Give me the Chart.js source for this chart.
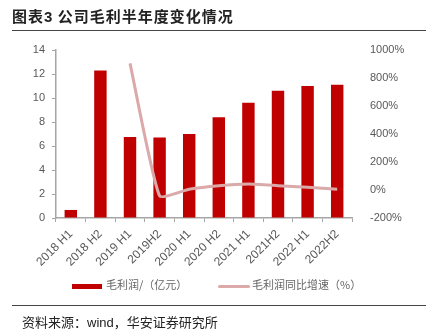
<!DOCTYPE html>
<html>
<head>
<meta charset="utf-8">
<script src="https://cdn.jsdelivr.net/npm/chart.js@4.4.0/dist/chart.umd.min.js"></script>
<style>
  body { margin: 0; background: #fff; width: 432px; height: 336px; overflow: hidden; position: relative; font-family: "Noto Sans CJK SC", sans-serif; }
  #wrap { position: absolute; left: 0; top: 0; width: 432px; height: 336px; }
  .title { position: absolute; left: 12px; top: 5px; font-size: 15px; font-weight: bold; color: #222; letter-spacing: 1px; }
  .rule { position: absolute; left: 12px; width: 414px; height: 1px; background: #444; }
  .legend { position: absolute; top: 276px; font-size: 11px; color: #666; white-space: nowrap; }
  .src { position: absolute; left: 22px; top: 312px; font-size: 13px; color: #222; }
</style>
</head>
<body>
<div id="wrap"><canvas id="grossProfitChart" width="432" height="336"></canvas></div>
<div class="title">图表<span style="font-family:'Liberation Sans',sans-serif">3</span> 公司毛利半年度变化情况</div>
<div class="rule" style="top:30px"></div>
<div class="legend" style="left:72px"><span style="display:inline-block;width:30px;height:5px;background:#c00000;vertical-align:middle;margin-right:4px"></span>毛利润/（亿元）</div>
<div class="legend" style="left:218px"><span style="display:inline-block;width:32px;height:3px;background:#dba9a9;border-radius:2px;vertical-align:middle;margin-right:2px"></span>毛利润同比增速（%）</div>
<div class="rule" style="top:305px"></div>
<div class="src">资料来源：<span style="font-family:'Liberation Sans',sans-serif">wind</span>，华安证券研究所</div>
<script>
// données
const periods = ['2018 H1', '2018 H2', '2019 H1', '2019H2', '2020 H1', '2020 H2', '2021 H1', '2021H2', '2022 H1', '2022H2'];
const grossProfit = [0.67, 12.3, 6.75, 6.7, 7.0, 8.4, 9.6, 10.6, 11.0, 11.1];
const growthRate = [null, null, 905, -42, 5, 30, 42, 31, 19, 5];

const tickFont = { family: 'Liberation Sans, Arial, sans-serif', size: 11 };

new Chart(document.getElementById('grossProfitChart'), {
  type: 'bar',
  data: {
    labels: periods,
    datasets: [
      {
        label: '毛利润同比增速（%）',
        type: 'line',
        data: growthRate,
        borderColor: '#dba9a9',
        borderWidth: 3,
        pointRadius: 0,
        tension: 0.15,
        yAxisID: 'y2',
        order: 0
      },
      {
        label: '毛利润/（亿元）',
        data: grossProfit,
        backgroundColor: '#c00000',
        barPercentage: 0.42,
        categoryPercentage: 1,
        yAxisID: 'y',
        order: 1
      }
    ]
  },
  options: {
    responsive: false,
    animation: false,
    layout: { padding: { top: 50, left: 0, right: 0, bottom: 0 } },
    plugins: { legend: { display: false }, tooltip: { enabled: false } },
    scales: {
      x: {
        grid: { display: true, offset: true, drawOnChartArea: false, tickLength: 4, color: '#a6a6a6' },
        border: { color: '#a6a6a6', width: 1.5 },
        ticks: { color: '#595959', font: { family: tickFont.family, size: 12 }, maxRotation: 45, minRotation: 45, autoSkip: false, padding: 5 },
        afterFit: scale => { scale.height = 336 - 218; }
      },
      y: {
        position: 'left',
        min: 0, max: 14,
        ticks: { stepSize: 2, color: '#595959', font: tickFont, padding: 7 },
        grid: { drawOnChartArea: false, tickLength: 4, color: '#a6a6a6' },
        border: { color: '#a6a6a6', width: 1.5 },
        afterFit: scale => { scale.width = 56; }
      },
      y2: {
        position: 'right',
        min: -200, max: 1000,
        ticks: { stepSize: 200, color: '#595959', font: tickFont, padding: 10, callback: v => v + '%' },
        grid: { display: false },
        border: { display: false },
        afterFit: scale => { scale.width = 432 - 352; }
      }
    }
  }
});
</script>
</body>
</html>
